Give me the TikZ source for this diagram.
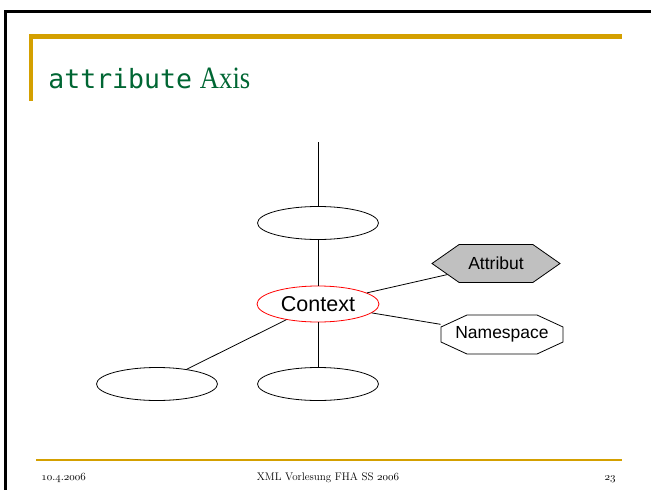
\documentclass[tikz,border=0pt]{standalone}
\usepackage{fontspec}
\setsansfont{Liberation Sans}
\newfontfamily\codefont{DejaVu Sans Mono}
\newfontfamily\headfont{Liberation Serif}
\usepackage{tikz}
\usetikzlibrary{shapes.geometric,shapes.symbols}
\definecolor{gold}{RGB}{212,160,0}
\definecolor{headgreen}{RGB}{0,102,51}
\definecolor{attrgray}{RGB}{192,192,192}

\begin{document}
\begin{tikzpicture}[x=1pt,y=-1pt,line width=.8pt,
    knot/.style={ellipse,draw,minimum width=121pt,minimum height=33pt,inner sep=0pt},
    boxfont/.style={font=\sffamily\fontsize{17.5}{20}\selectfont},
    footfont/.style={font=\fontsize{11}{13}\selectfont,inner sep=0pt}]
                \useasboundingbox (0,0) rectangle (651,490);
                % slide frame and title bar
                \draw[line width=2.7pt] (651,11.3) -- (5.3,11.3) -- (5.3,490);
                \draw[gold,line width=4.5pt] (31,101) -- (31,36.5) -- (622,36.5);
                \draw[gold,line width=2pt] (36,460) -- (622,460);
                \node[anchor=base west,inner sep=0pt,text=headgreen] (title) at (48,88)
                    {{\codefont\fontsize{26.5}{30}\selectfont attribute}\hspace{8pt}\scalebox{.86}[1]{\headfont\fontsize{31}{34}\selectfont Axis}};

                % tree around the context node
                \coordinate (up) at (318,142);
                \node[knot] (parent) at (318,223) {};
                \node[knot,draw=red,minimum width=122pt,minimum height=36pt,font=\sffamily\fontsize{21.5}{24}\selectfont] (ctx) at (318,304) {Context};
                \node[knot] (left) at (157,384) {};
                \node[knot] (down) at (318,384) {};
                \node[boxfont,draw,fill=attrgray,signal,signal to=west and east,signal pointer angle=70,
                      minimum width=128pt,minimum height=38pt,inner sep=1pt] (attr) at (496,263.5) {Attribut};
                \node[boxfont,minimum width=122pt,minimum height=39pt,inner sep=0pt] (ns) at (502,334.5) {Namespace};
                \draw ([shift={(-61,-7.5)}]ns.center) -- ([shift={(-35,-19.5)}]ns.center) -- ([shift={(35,-19.5)}]ns.center)
                      -- ([shift={(61,-7.5)}]ns.center) -- ([shift={(61,7.5)}]ns.center) -- ([shift={(35,19.5)}]ns.center)
                      -- ([shift={(-35,19.5)}]ns.center) -- ([shift={(-61,7.5)}]ns.center) -- cycle;

                \draw (up) -- (parent);
                \draw (parent) -- (ctx);
                \draw (ctx) -- (attr);
                \draw (ctx) -- (ns);
                \draw (ctx) -- (left);
                \draw (ctx) -- (down);

                % footer
                \node[footfont,anchor=base west] (date) at (41,480) {$\mathnormal{10.4.2006}$};
                \node[footfont,anchor=base] (event) at (328,480) {XML Vorlesung FHA SS $\mathnormal{2006}$};
                \node[footfont,anchor=base east] (page) at (616,480) {$\mathnormal{23}$};
             \end{tikzpicture}
\end{document}
